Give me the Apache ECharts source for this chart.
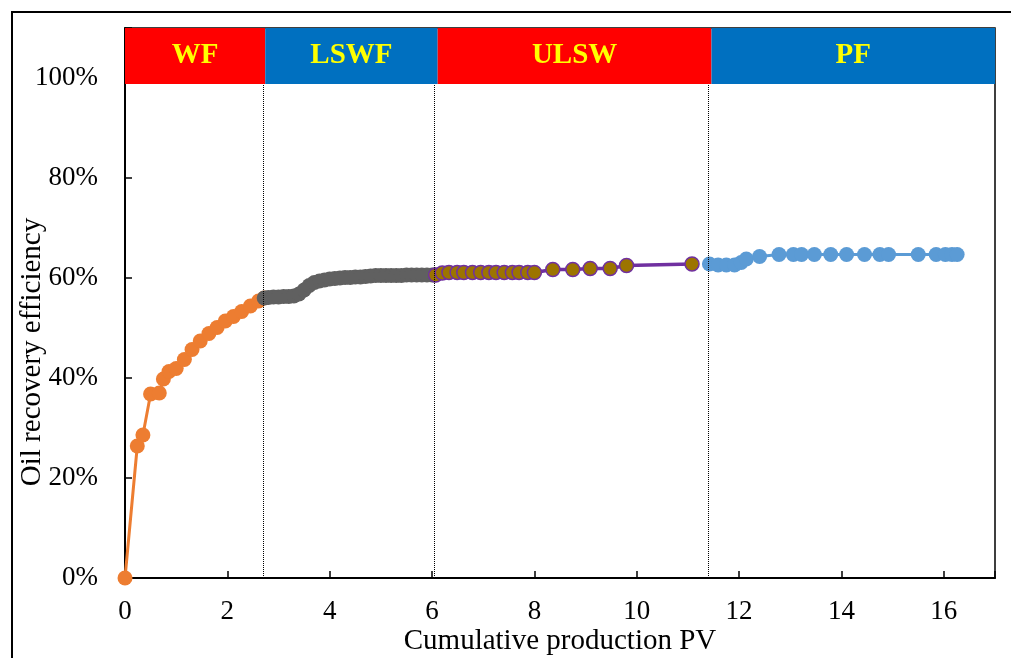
<!DOCTYPE html>
<html><head><meta charset="utf-8">
<script src="https://cdn.jsdelivr.net/npm/echarts@6/dist/echarts.min.js"></script>
<style>html,body{margin:0;padding:0;background:#fff}#c{width:1011px;height:658px}</style>
</head><body><div id="c"></div>
<script>
const wfX = [0, 0.24, 0.35, 0.5, 0.67, 0.75, 0.86, 1.0, 1.16, 1.31, 1.47, 1.64, 1.8, 1.96, 2.12, 2.28, 2.45, 2.61, 2.72];
const wfY = [0, 26.4, 28.6, 36.8, 37.0, 39.8, 41.3, 41.9, 43.7, 45.7, 47.4, 48.9, 50.1, 51.4, 52.3, 53.3, 54.4, 55.4, 56.0];
const lswfX = [2.72, 2.8, 2.9, 3.0, 3.1, 3.2, 3.3, 3.4, 3.5, 3.6, 3.7, 3.8, 3.9, 4.0, 4.1, 4.2, 4.3, 4.4, 4.5, 4.6, 4.7, 4.8, 4.9, 5.0, 5.1, 5.2, 5.3, 5.4, 5.5, 5.6, 5.7, 5.8, 5.9, 6.0, 6.05];
const lswfY = [56.0, 56.1, 56.2, 56.2, 56.3, 56.3, 56.4, 56.8, 57.6, 58.5, 59.1, 59.4, 59.6, 59.8, 59.9, 60.0, 60.1, 60.1, 60.2, 60.2, 60.3, 60.4, 60.5, 60.5, 60.5, 60.5, 60.5, 60.5, 60.6, 60.6, 60.6, 60.6, 60.6, 60.6, 60.6];
const ulswX = [6.07, 6.2, 6.33, 6.49, 6.62, 6.79, 6.95, 7.11, 7.25, 7.41, 7.57, 7.7, 7.87, 8.0, 8.36, 8.75, 9.09, 9.48, 9.8, 11.08];
const ulswY = [60.6, 61.0, 61.1, 61.1, 61.1, 61.1, 61.1, 61.1, 61.1, 61.1, 61.1, 61.1, 61.1, 61.1, 61.7, 61.7, 61.9, 61.9, 62.5, 62.8];
const pfX = [11.42, 11.59, 11.75, 11.91, 12.04, 12.14, 12.4, 12.78, 13.06, 13.22, 13.47, 13.79, 14.1, 14.45, 14.75, 14.92, 15.5, 15.85, 16.03, 16.16, 16.26];
const pfY = [62.8, 62.6, 62.6, 62.6, 63.1, 63.8, 64.3, 64.7, 64.7, 64.7, 64.7, 64.7, 64.7, 64.7, 64.7, 64.7, 64.7, 64.7, 64.7, 64.7, 64.7];
const phases = ['WF', 'LSWF', 'ULSW', 'PF'];
const phaseStart = [0, 2.74, 6.11, 11.46];
const phaseEnd = [2.74, 6.11, 11.46, 17];
const boundaries = [2.7, 6.05, 11.4];
const xTicks = [0, 2, 4, 6, 8, 10, 12, 14, 16];
const yTicks = [0, 20, 40, 60, 80, 100];

const zip = (a, b) => a.map((v, i) => [v, b[i]]);
const FONT = "'Liberation Serif','Times New Roman',serif";
const bandColors = ['#ff0000', '#0070c0', '#ff0000', '#0070c0'];

const chart = echarts.init(document.getElementById('c'));
chart.setOption({
  animation: false,
  backgroundColor: '#fff',
  grid: { left: 125, right: 16, top: 28, bottom: 80, outerBoundsMode: 'none', containLabel: false,
    show: true, borderColor: '#000', borderWidth: 1.5, backgroundColor: 'transparent' },
  graphic: [{ type: 'rect', shape: { x: 12, y: 12, width: 1100, height: 800 }, style: { fill: 'none', stroke: '#000', lineWidth: 2 }, z: 100 }],
  xAxis: {
    type: 'value', min: 0, max: 17, interval: 2,
    name: 'Cumulative production PV', nameLocation: 'middle', nameGap: 49, nameMoveOverlap: false,
    nameTextStyle: { fontFamily: FONT, fontSize: 29, color: '#000' },
    axisLine: { lineStyle: { color: '#000', width: 2 } },
    axisTick: { inside: true, length: 7, lineStyle: { color: '#000', width: 1.5 } },
    axisLabel: { fontFamily: FONT, fontSize: 27, color: '#000', margin: 20,
      formatter: v => xTicks.includes(v) ? String(v) : '' },
    splitLine: { show: false }
  },
  yAxis: {
    type: 'value', min: 0, max: 110, interval: 20,
    name: 'Oil recovery efficiency', nameLocation: 'middle', nameGap: 78, nameMoveOverlap: false,
    nameTextStyle: { fontFamily: FONT, fontSize: 29, color: '#000', padding: [0, 98, 0, 0] },
    axisLine: { lineStyle: { color: '#000', width: 2 } },
    axisTick: { inside: true, length: 7, lineStyle: { color: '#000', width: 1.5 } },
    axisLabel: { fontFamily: FONT, fontSize: 27, color: '#000', margin: 27,
      formatter: v => yTicks.includes(v) ? v + '%' : '' },
    splitLine: { show: false }
  },
  series: [
    {
      type: 'line', data: [], silent: true,
      markArea: {
        silent: true,
        label: { show: true, position: 'inside', color: '#ffff00', fontFamily: FONT, fontWeight: 'bold', fontSize: 29 },
        data: phases.map((p, i) => [
          { name: p, xAxis: phaseStart[i], yAxis: 98.8, itemStyle: { color: bandColors[i], opacity: 1 } },
          { xAxis: phaseEnd[i], yAxis: 110 }
        ])
      },
      markLine: {
        silent: true, symbol: 'none', label: { show: false },
        lineStyle: { color: '#000', type: 'dotted', width: 1 },
        data: boundaries.map(b => [{ coord: [b, 0] }, { coord: [b, 98.8] }])
      }
    },
    { name: 'WF', type: 'line', data: zip(wfX, wfY), symbol: 'circle', symbolSize: 15,
      itemStyle: { color: '#ed7d31' }, lineStyle: { color: '#ed7d31', width: 3 } },
    { name: 'LSWF', type: 'line', data: zip(lswfX, lswfY), symbol: 'circle', symbolSize: 15,
      itemStyle: { color: '#606060' }, lineStyle: { color: '#606060', width: 3 } },
    { name: 'ULSW', type: 'line', data: zip(ulswX, ulswY), symbol: 'circle', symbolSize: 14,
      itemStyle: { color: '#9c7400', borderColor: '#7030a0', borderWidth: 1.5 }, lineStyle: { color: '#7030a0', width: 3.5 } },
    { name: 'PF', type: 'line', data: zip(pfX, pfY), symbol: 'circle', symbolSize: 15,
      itemStyle: { color: '#5b9bd5' }, lineStyle: { color: '#5b9bd5', width: 3 } }
  ]
});
</script></body></html>
